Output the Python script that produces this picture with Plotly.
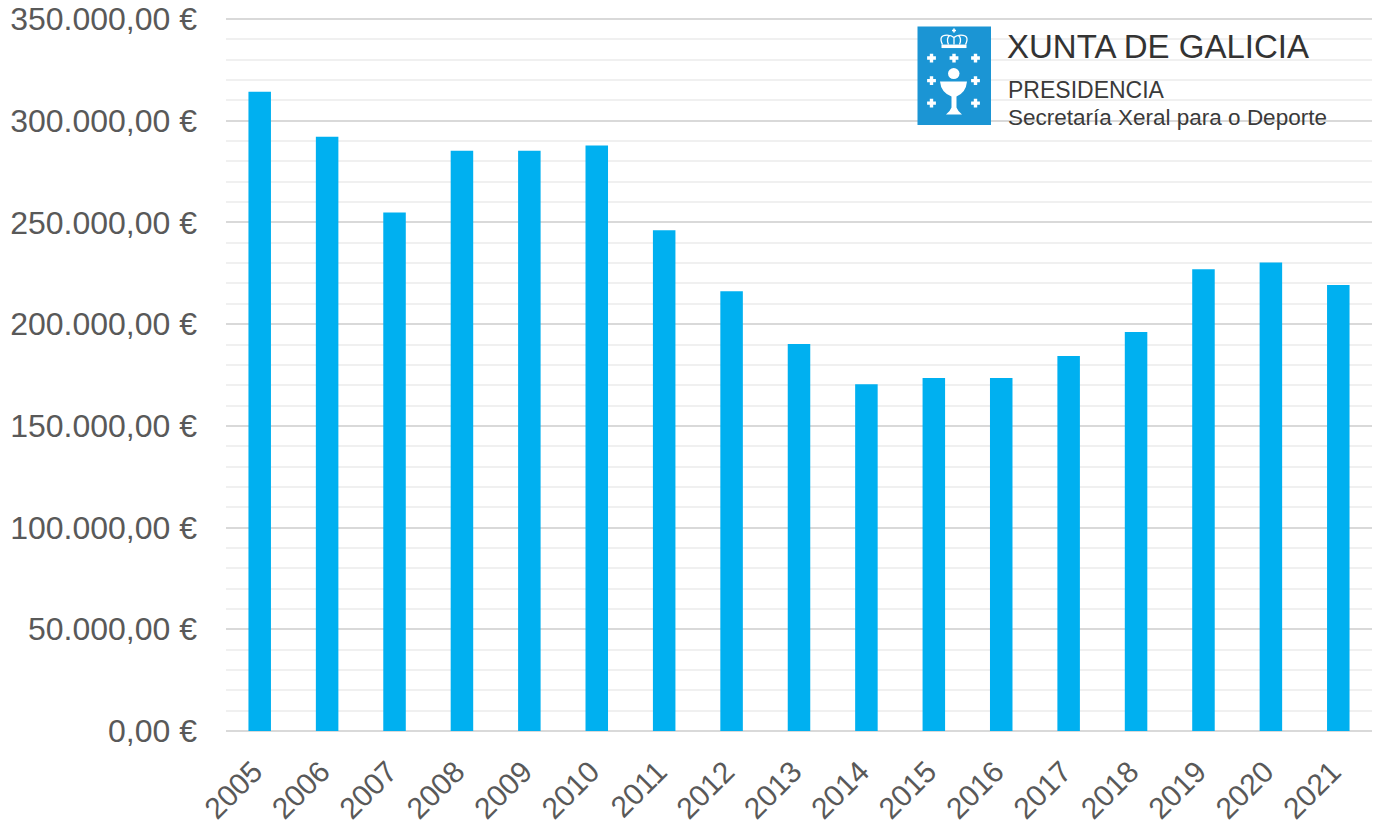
import plotly.graph_objects as go

years = ["2005", "2006", "2007", "2008", "2009", "2010", "2011", "2012", "2013",
         "2014", "2015", "2016", "2017", "2018", "2019", "2020", "2021"]
values = [314300, 292100, 254900, 285200, 285200, 287800, 246200, 216200, 190200,
          170500, 173500, 173500, 184300, 196200, 227000, 230300, 219300]
ytick_vals = [0, 50000, 100000, 150000, 200000, 250000, 300000, 350000]
ytick_text = ["0,00 €", "50.000,00 €", "100.000,00 €", "150.000,00 €", "200.000,00 €",
              "250.000,00 €", "300.000,00 €", "350.000,00 €"]
logo_title = "XUNTA DE GALICIA"
logo_sub1 = "PRESIDENCIA"
logo_sub2 = "Secretaría Xeral para o Deporte"

W, H = 1374, 824
Y_MAX = 351000
L, R, B = 226, 1372, 731  # plot area in page pixels
T = B - (B - 19.5) * Y_MAX / 350000


def px(x):
    return (x - L) / (R - L)


def py(y):
    return (B - y) / (B - T)


def pt(x, y):
    return f"{px(x):.5f},{py(y):.5f}"


def path(points):
    return "M " + " L ".join(pt(x, y) for x, y in points) + " Z"


fig = go.Figure()
fig.add_trace(go.Bar(x=years, y=values, marker=dict(color="#00b0f0", line=dict(width=0)),
                     hoverinfo="x+y"))

shapes = []
shapes.append(dict(type="rect", xref="paper", yref="paper", x0=px(917.5), x1=px(991),
                   y0=py(125.5), y1=py(27), fillcolor="#1b95d4", line=dict(width=0), layer="above"))


def cross(cx, cy, s=4.4, t=1.7):
    pts = [(cx - t, cy - s), (cx + t, cy - s), (cx + t, cy - t), (cx + s, cy - t), (cx + s, cy + t),
           (cx + t, cy + t), (cx + t, cy + s), (cx - t, cy + s), (cx - t, cy + t), (cx - s, cy + t),
           (cx - s, cy - t), (cx - t, cy - t)]
    return dict(type="path", xref="paper", yref="paper", path=path(pts), fillcolor="white",
                line=dict(width=0), layer="above")


for cx, cy in [(931.5, 58.5), (954, 58.5), (975.5, 58.5), (931.5, 81), (975.5, 81),
               (931.5, 103.5), (975.5, 103.5)]:
    shapes.append(cross(cx, cy))
shapes.append(cross(954, 31, s=2.0, t=0.8))

# host
shapes.append(dict(type="circle", xref="paper", yref="paper", x0=px(948), x1=px(959.5),
                   y0=py(79.5), y1=py(68.5), fillcolor="white", line=dict(width=0), layer="above"))
# chalice
chalice = ("M " + pt(940, 82) + " L " + pt(967, 82) + " Q " + pt(966, 93) + " " + pt(956.5, 97)
           + " L " + pt(956.5, 108) + " Q " + pt(958, 112) + " " + pt(962, 115)
           + " L " + pt(946, 115) + " Q " + pt(950, 112) + " " + pt(951.5, 108)
           + " L " + pt(951.5, 97) + " Q " + pt(941, 93) + " " + pt(940, 82) + " Z")
shapes.append(dict(type="path", xref="paper", yref="paper", path=chalice, fillcolor="white",
                   line=dict(width=0), layer="above"))
# crown
crown_outline = ("M " + pt(942.5, 45) + " Q " + pt(938, 35.5) + " " + pt(947, 35.5)
                 + " Q " + pt(951.5, 35.5) + " " + pt(954, 38)
                 + " Q " + pt(956.5, 35.5) + " " + pt(961, 35.5)
                 + " Q " + pt(970, 35.5) + " " + pt(965.5, 45)
                 + " M " + pt(948.5, 45) + " Q " + pt(946, 39) + " " + pt(949.5, 36)
                 + " M " + pt(959.5, 45) + " Q " + pt(962, 39) + " " + pt(958.5, 36)
                 + " M " + pt(954, 38) + " L " + pt(954, 45))
shapes.append(dict(type="path", xref="paper", yref="paper", path=crown_outline,
                   fillcolor="rgba(0,0,0,0)", line=dict(width=1.3, color="white"), layer="above"))
shapes.append(dict(type="rect", xref="paper", yref="paper", x0=px(941.5), x1=px(966.5),
                   y0=py(48.5), y1=py(45), fillcolor="white", line=dict(width=0), layer="above"))

annotations = [
    dict(text=logo_title, xref="paper", yref="paper", x=px(1005), y=py(47), xanchor="left",
         yanchor="middle", showarrow=False,
         font=dict(family="Liberation Sans, Arial", size=33, color="#333333")),
    dict(text=logo_sub1, xref="paper", yref="paper", x=px(1006), y=py(90), xanchor="left",
         yanchor="middle", showarrow=False,
         font=dict(family="Liberation Sans, Arial", size=23, color="#3a3a3a")),
    dict(text=logo_sub2, xref="paper", yref="paper", x=px(1006), y=py(118), xanchor="left",
         yanchor="middle", showarrow=False,
         font=dict(family="Liberation Sans, Arial", size=22.5, color="#3a3a3a")),
]

fig.update_layout(
    width=W, height=H,
    margin=dict(l=L, r=W - R, t=T, b=H - B, pad=0),
    plot_bgcolor="white", paper_bgcolor="white",
    bargap=0.666,
    showlegend=False,
    font=dict(family="Liberation Sans, Arial", color="#595959"),
    shapes=shapes,
    annotations=annotations,
    xaxis=dict(type="category", tickangle=-45, tickfont=dict(size=30, color="#595959"),
               showgrid=False, showline=False, ticks="", ticklabelstandoff=16,
               ticklabelshift=-6, automargin=False, ticklabeloverflow="allow"),
    yaxis=dict(range=[0, Y_MAX], tickvals=ytick_vals, ticktext=ytick_text,
               tickfont=dict(size=32, color="#595959"),
               showgrid=True, gridcolor="#d9d9d9", gridwidth=1.5,
               zeroline=True, zerolinecolor="#d9d9d9", zerolinewidth=1.5,
               minor=dict(dtick=10000, showgrid=True, gridcolor="#f0f0f0", gridwidth=1.5),
               showline=False, ticks="", ticklabelstandoff=28,
               automargin=False, ticklabeloverflow="allow"),
)

fig.write_html("out.html", config={"displayModeBar": False},
               post_script="document.body.style.margin='0';document.body.style.overflow='hidden';")
